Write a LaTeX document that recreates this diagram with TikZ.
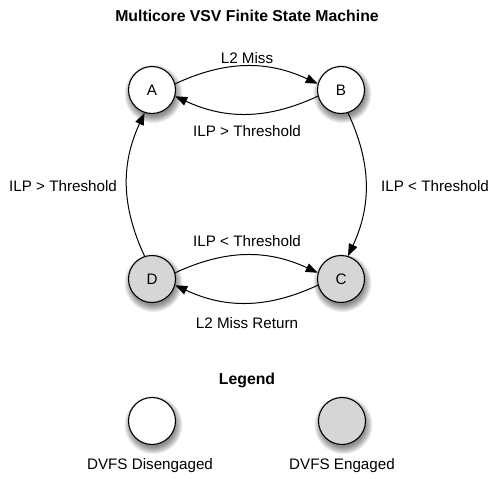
\documentclass[tikz,border=0pt]{standalone}
\usepackage{fontspec}
\setmainfont{Liberation Sans}
\usetikzlibrary{arrows.meta}
\definecolor{engaged}{HTML}{D6D6D6}
\begin{document}
\begin{tikzpicture}[x=1pt,y=1pt,
  font=\fontsize{15.2}{18}\selectfont,
  state/.style={circle,draw=black,line width=1.1pt,minimum size=47pt,inner sep=0pt,fill=white},
  engagedstate/.style={state,fill=engaged},
  trans/.style={line width=1pt,-{Triangle[length=12pt,width=9pt]}},
  lbl/.style={inner sep=0pt,anchor=center},
  heading/.style={inner sep=0pt,font=\fontsize{15.8}{18}\selectfont\bfseries}]
\useasboundingbox (0,0) rectangle (491,-479);

\node[heading] (title) at (247,-16) {Multicore VSV Finite State Machine};

% soft shadows under the circles: stacked translucent discs
\foreach \cx/\cy in {152/-90,341/-90,152/-279,341/-279,152/-421,342/-421}{
  \foreach \r in {29,28,27,26,25,24,23,22}{
    \fill[black,opacity=0.07] (\cx+1.5,\cy-4) circle (\r);
  }
}

% states
\node[state] (A) at (152,-90) {A};
\node[state] (B) at (341,-90) {B};
\node[engagedstate] (D) at (152,-279) {D};
\node[engagedstate] (C) at (341,-279) {C};

% transitions
\draw[trans] (A.15) to[out=25,in=155] (B.165);
\draw[trans] (B.195) to[out=205,in=-25] (A.-15);
\draw[trans] (D.15) to[out=25,in=155] (C.165);
\draw[trans] (C.195) to[out=205,in=-25] (D.-15);
\draw[trans] (B.-73) to[out=-65,in=65] (C.73);
\draw[trans] (D.108) to[out=115,in=-115] (A.252);

% transition labels
\node[lbl] (lab) at (247,-58) {L2 Miss};
\node[lbl] (lba) at (247,-131) {ILP > Threshold};
\node[lbl] (lda) at (63,-186) {ILP > Threshold};
\node[lbl] (lbc) at (435,-186) {ILP < Threshold};
\node[lbl] (ldc) at (247,-241) {ILP < Threshold};
\node[lbl] (lcd) at (247,-323) {L2 Miss Return};

% legend
\node[heading] (legend) at (247,-380) {Legend};
\node[state] (off) at (152,-421) {};
\node[engagedstate] (on) at (342,-421) {};
\node[lbl] (offtxt) at (150,-466) {DVFS Disengaged};
\node[lbl] (ontxt) at (342,-466) {DVFS Engaged};
\end{tikzpicture}
\end{document}
